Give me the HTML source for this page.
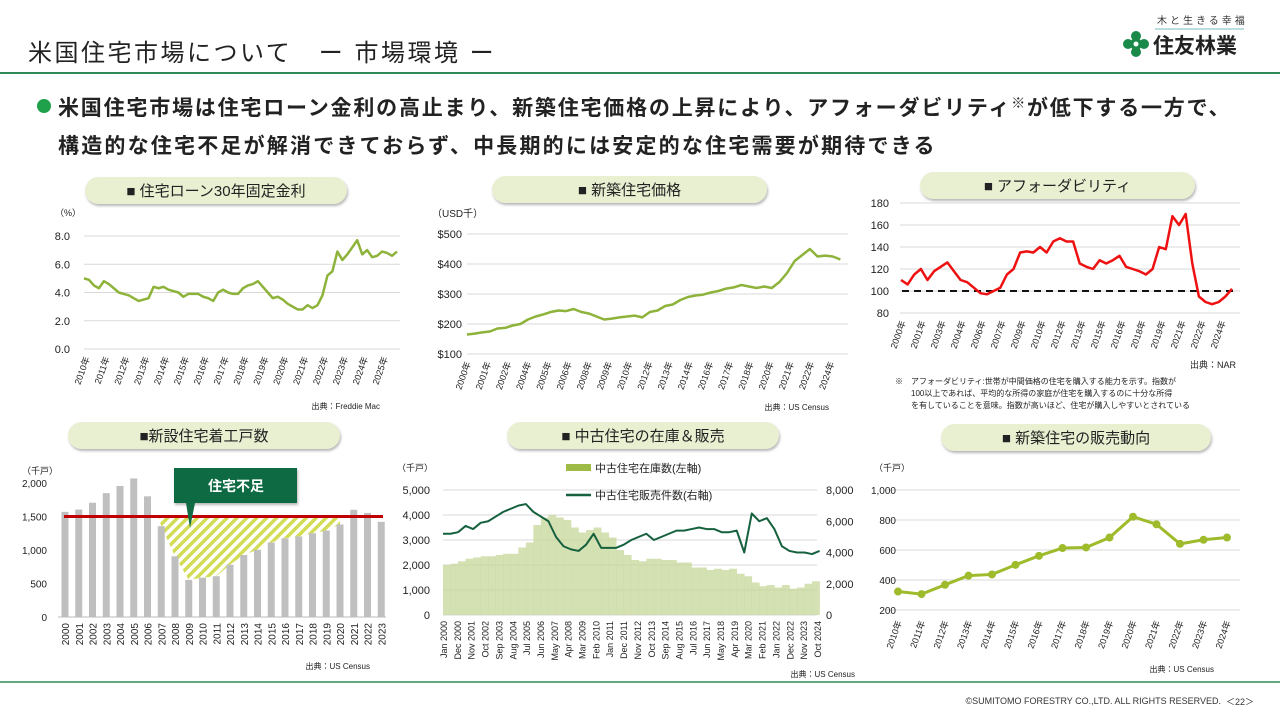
<!DOCTYPE html>
<html><head><meta charset="utf-8">
<style>
body{margin:0;background:#fff;}
svg{display:block;font-family:"Liberation Sans","Noto Sans CJK JP",sans-serif;}
</style></head>
<body>
<svg id="s" width="1280" height="720" viewBox="0 0 1280 720" xmlns="http://www.w3.org/2000/svg">
<defs>
<pattern id="hatch" width="7" height="7" patternUnits="userSpaceOnUse" patternTransform="rotate(45)">
<rect width="7" height="7" fill="#fff"/><rect width="3.5" height="7" fill="#d3dc55"/>
</pattern>
<filter id="sh" x="-5%" y="-20%" width="110%" height="160%"><feDropShadow dx="1" dy="2" stdDeviation="1.2" flood-color="#999" flood-opacity="0.7"/></filter>
</defs>
<text x="28" y="61" font-size="24" letter-spacing="2.5" fill="#222">米国住宅市場について　ー 市場環境 ー</text>
<line x1="0" y1="73" x2="1280" y2="73" stroke="#2e8b57" stroke-width="2"/>
<text x="1157" y="24" font-size="10" fill="#333" letter-spacing="3">木と生きる幸福</text>
<line x1="1155" y1="29" x2="1244" y2="29" stroke="#7bb" stroke-width="1"/>
<g fill="#1a8a4a"><circle cx="1136" cy="44" r="6"/><circle cx="1128" cy="44" r="5"/><circle cx="1144" cy="44" r="5"/><circle cx="1136" cy="36" r="5"/><circle cx="1136" cy="52" r="5"/><circle cx="1136" cy="44" r="2.5" fill="#fff"/></g>
<text x="1153" y="53" font-size="21" font-weight="bold" fill="#222">住友林業</text>
<circle cx="44" cy="106" r="7" fill="#1fa04a"/>
<text x="58" y="115" font-size="21" letter-spacing="1.8" font-weight="bold" fill="#222">米国住宅市場は住宅ローン金利の高止まり、新築住宅価格の上昇により、アフォーダビリティ<tspan font-size="14" dy="-7">※</tspan><tspan dy="7">が低下する一方で、</tspan></text>
<text x="58" y="153" font-size="21" letter-spacing="2.2" font-weight="bold" fill="#222">構造的な住宅不足が解消できておらず、中長期的には安定的な住宅需要が期待できる</text>
<g id="pills"></g>
<g id="c1"></g><g id="c2"></g><g id="c3"></g><g id="c4"></g><g id="c5"></g><g id="c6"></g>
<line x1="0" y1="682" x2="1280" y2="682" stroke="#2e8b57" stroke-width="1.5"/>
<text x="1221" y="704" font-size="9" fill="#333" text-anchor="end">©SUMITOMO FORESTRY CO.,LTD. ALL RIGHTS RESERVED.</text>
<text x="1240" y="705" font-size="9" fill="#333" text-anchor="middle">＜22＞</text>
</svg>
<script>
// ---- chart data ----
const rateStart = 2010;
const rateVals = [5.0,4.9,4.5,4.3, 4.8,4.6,4.3,4.0, 3.9,3.8,3.6,3.4, 3.5,3.6,4.4,4.3, 4.4,4.2,4.1,4.0, 3.7,3.9,3.9,3.9, 3.7,3.6,3.4,4.0, 4.2,4.0,3.9,3.9, 4.3,4.5,4.6,4.8, 4.4,4.0,3.6,3.7, 3.5,3.2,3.0,2.8, 2.8,3.1,2.9,3.1, 3.8,5.2,5.5,6.9, 6.3,6.7,7.2,7.7, 6.7,7.0,6.5,6.6, 6.9,6.8,6.6,6.9];
const rateTicks = [0,2,4,6,8];
const rateYears = ['2010年','2011年','2012年','2013年','2014年','2015年','2016年','2017年','2018年','2019年','2020年','2021年','2022年','2023年','2024年','2025年'];

const priceStart = 2000;
const priceVals = [165,168,172,175,185,187,195,200,215,225,232,240,245,243,250,240,235,225,215,218,222,225,228,222,240,245,260,265,280,290,295,298,305,310,318,322,330,325,320,325,320,340,370,410,430,450,425,428,425,415];
const priceTicks = [100,200,300,400,500];
const priceYears = ['2000年','2001年','2002年','2004年','2005年','2006年','2008年','2009年','2010年','2012年','2013年','2014年','2016年','2017年','2018年','2020年','2021年','2022年','2024年'];

const affStart = 2000;
const affVals = [110,106,115,120,110,118,122,126,118,110,108,103,98,97,100,103,115,120,135,136,135,140,135,145,148,145,145,125,122,120,128,125,128,132,122,120,118,115,120,140,138,168,160,170,125,95,90,88,90,95,102];
const affTicks = [80,100,120,140,160,180];
const affYears = ['2000年','2001年','2003年','2004年','2006年','2007年','2009年','2010年','2012年','2013年','2015年','2016年','2018年','2019年','2021年','2022年','2024年'];

const startsYears = ['2000','2001','2002','2003','2004','2005','2006','2007','2008','2009','2010','2011','2012','2013','2014','2015','2016','2017','2018','2019','2020','2021','2022','2023'];
const startsVals = [1569,1603,1705,1848,1956,2068,1801,1355,906,554,587,609,781,925,1003,1112,1174,1203,1250,1290,1380,1601,1553,1420];
const startsTicks = [0,500,1000,1500,2000];
const startsThreshold = 1500;

const exStart = 2000;
const invVals = [2000,2050,2150,2250,2300,2350,2350,2400,2450,2450,2700,2900,3600,3900,4000,3900,3800,3500,3300,3400,3500,3300,3100,2600,2400,2200,2150,2250,2250,2200,2200,2100,2100,1900,1900,1800,1850,1800,1850,1650,1550,1300,1150,1200,1100,1200,1050,1100,1250,1350];
const salesVals = [5200,5200,5300,5700,5500,5900,6000,6300,6600,6800,7000,7100,6600,6300,6000,5000,4400,4200,4100,4500,5200,4300,4300,4300,4500,4800,5000,5200,4800,5000,5200,5400,5400,5500,5600,5500,5500,5300,5300,5400,4000,6500,6000,6200,5500,4400,4100,4000,4000,3900,4100];
const exLeftTicks = [0,1000,2000,3000,4000,5000];
const exRightTicks = [0,2000,4000,6000,8000];
const exLabels = ['Jan 2000','Dec 2000','Nov 2001','Oct 2002','Sep 2003','Aug 2004','Jul 2005','Jun 2006','May 2007','Apr 2008','Mar 2009','Feb 2010','Jan 2011','Dec 2011','Nov 2012','Oct 2013','Sep 2014','Aug 2015','Jul 2016','Jun 2017','May 2018','Apr 2019','Mar 2020','Feb 2021','Jan 2022','Dec 2022','Nov 2023','Oct 2024'];

const nsYears = ['2010年','2011年','2012年','2013年','2014年','2015年','2016年','2017年','2018年','2019年','2020年','2021年','2022年','2023年','2024年'];
const nsVals = [323,306,368,429,437,501,561,613,617,683,822,771,641,668,683];
const nsTicks = [200,400,600,800,1000];

// ---- helpers ----
const NS='http://www.w3.org/2000/svg';
function mk(parent, tag, attrs, txt){const e=document.createElementNS(NS,tag);for(const k in attrs)e.setAttribute(k,attrs[k]);if(txt!==undefined)e.textContent=txt;parent.appendChild(e);return e;}
function lin(d0,d1,r0,r1){return v=>r0+(v-d0)/(d1-d0)*(r1-r0);}
function fmt(v){return v.toLocaleString('en-US');}
function rotLabel(g,x,y,t,fs,ang){const a=ang===undefined?-70:ang;const e=mk(g,'text',{x:x,y:y,'font-size':fs,fill:'#222','text-anchor':'end',transform:`rotate(${a} ${x} ${y})`},t);


return e;}

// ---- pills ----
const pills=[[85,177,262,'■ 住宅ローン30年固定金利'],[492,176,275,'■ 新築住宅価格'],[920,172,275,'■ アフォーダビリティ'],[68,422,272,'■新設住宅着工戸数'],[507,422,272,'■ 中古住宅の在庫＆販売'],[941,424,270,'■ 新築住宅の販売動向']];
const pg=document.getElementById('pills');
pills.forEach(p=>{const r=mk(pg,'rect',{x:p[0],y:p[1],width:p[2],height:27,rx:13.5,fill:'#e9f0d2',filter:'url(#sh)'});


const t=mk(pg,'text',{x:p[0]+p[2]/2,y:p[1]+19,'font-size':15,'text-anchor':'middle',fill:'#222'},p[3]);

});

function grid(g,ticks,y,x0,x1,lab,lx,fs,anchor){ticks.forEach(v=>{const l=mk(g,'line',{x1:x0,x2:x1,y1:y(v),y2:y(v),stroke:'#d9d9d9','stroke-width':1});


const t=mk(g,'text',{x:lx,y:y(v)+4,'font-size':fs,'text-anchor':anchor||'end',fill:'#222'},lab(v));

});}
function note(g,x,y,t,fs,anchor){const e=mk(g,'text',{x:x,y:y,'font-size':fs||8,fill:'#222','text-anchor':anchor||'start'},t);

return e;}

// ---- chart 1: mortgage rate ----
(function(){const g=document.getElementById('c1');
const x=lin(rateStart,rateStart+15.75,84,397), y=lin(0,8,349,236);
grid(g,rateTicks,y,84,400,v=>v.toFixed(1),70,11);
note(g,55,216,'（%）',9);
rateYears.forEach((t,i)=>rotLabel(g,x(rateStart+i)+6,358,t,9));
const pts=rateVals.map((v,i)=>x(rateStart+i*0.25)+','+y(v)).join(' ');
const l=mk(g,'polyline',{points:pts,fill:'none',stroke:'#8db33a','stroke-width':2.5,'stroke-linejoin':'round'});


note(g,380,409,'出典：Freddie Mac',8,'end');})();

// ---- chart 2: new home price ----
(function(){const g=document.getElementById('c2');
const x=lin(priceStart,priceStart+25,467,848), y=lin(100,500,354,234);
grid(g,priceTicks,y,467,848,v=>'$'+v,462,11);
note(g,432,217,'（USD千）',10);
priceYears.forEach((t,i)=>rotLabel(g,471+i*20.2,363,t,9));
const pts=priceVals.map((v,i)=>x(priceStart+i*0.5)+','+y(v)).join(' ');
const l=mk(g,'polyline',{points:pts,fill:'none',stroke:'#8db33a','stroke-width':2.5,'stroke-linejoin':'round'});


note(g,829,410,'出典：US Census',8,'end');})();

// ---- chart 3: affordability ----
(function(){const g=document.getElementById('c3');
const x=lin(affStart,affStart+25,901,1232), y=lin(80,180,313,203);
grid(g,affTicks,y,900,1240,v=>v,889,11);
affYears.forEach((t,i)=>rotLabel(g,906+i*20,322,t,9));
const d=mk(g,'line',{x1:902,x2:1236,y1:y(100),y2:y(100),stroke:'#111','stroke-width':2,'stroke-dasharray':'7 5'});


const pts=affVals.map((v,i)=>x(affStart+i*0.5)+','+y(v)).join(' ');
const l=mk(g,'polyline',{points:pts,fill:'none',stroke:'#ee1111','stroke-width':2.5,'stroke-linejoin':'round'});


note(g,1236,368,'出典：NAR',9,'end');
note(g,895,384,'※　アフォーダビリティ:世帯が中間価格の住宅を購入する能力を示す。指数が',8);
note(g,911,396,'100以上であれば、平均的な所得の家庭が住宅を購入するのに十分な所得',8);
note(g,911,408,'を有していることを意味。指数が高いほど、住宅が購入しやすいとされている',8);})();

// ---- chart 4: housing starts ----
(function(){const g=document.getElementById('c4');
const step=13.75, x=i=>65+i*step, y=lin(0,2000,617,483);
startsTicks.forEach(v=>{const t=mk(g,'text',{x:47,y:y(v)+4,'font-size':10,'text-anchor':'end',fill:'#222'},fmt(v));

});
note(g,22,474,'（千戸）',9);
let pts=[];for(let i=7;i<=20;i++)pts.push(x(i)+','+y(startsVals[i]));
pts.push(x(20)+','+y(startsThreshold));pts.push((x(7)-3)+','+y(startsThreshold));
const h=mk(g,'polygon',{points:pts.join(' '),fill:'url(#hatch)'});


startsVals.forEach((v,i)=>{const b=mk(g,'rect',{x:x(i)-3.5,y:y(v),width:7,height:y(0)-y(v),fill:'#bfbfbf'});


rotLabel(g,x(i)+4,623,startsYears[i],10,-90);});
const ax=mk(g,'line',{x1:58,x2:386,y1:y(0),y2:y(0),stroke:'#bbb'});


const r=mk(g,'line',{x1:64,x2:383,y1:y(startsThreshold),y2:y(startsThreshold),stroke:'#c00000','stroke-width':3});


const box=mk(g,'rect',{x:174,y:468,width:123,height:35,fill:'#116b43',filter:'url(#sh)'});


const ar=mk(g,'polygon',{points:'186,503 195,503 190,528',fill:'#116b43'});


const ct=mk(g,'text',{x:236,y:491,'font-size':14,'font-weight':'bold','text-anchor':'middle',fill:'#fff'},'住宅不足');


note(g,370,669,'出典：US Census',8,'end');})();

// ---- chart 5: existing homes ----
(function(){const g=document.getElementById('c5');
const x=lin(exStart,exStart+24.83,443,817), yl=lin(0,5000,615,490), yr=lin(0,8000,615,490);
grid(g,exLeftTicks,yl,443,817,fmt,430,11);
exRightTicks.forEach(v=>{const t=mk(g,'text',{x:826,y:yr(v)+4,'font-size':11,fill:'#222'},fmt(v));

});
note(g,397,471,'（千戸）',9);
const w=x(exStart+0.5)-x(exStart);
invVals.forEach((v,i)=>{const b=mk(g,'rect',{x:x(exStart+i*0.5),y:yl(v),width:w+0.3,height:yl(0)-yl(v),fill:'#c6d79a','fill-opacity':0.75});

});
const pts=salesVals.map((v,i)=>x(exStart+i*0.5)+','+yr(v)).join(' ');
const l=mk(g,'polyline',{points:pts,fill:'none',stroke:'#16613d','stroke-width':2,'stroke-linejoin':'round'});


exLabels.forEach((t,i)=>rotLabel(g,447+i*13.85,621,t,9,-90));
const lg1=mk(g,'rect',{x:566,y:464,width:25,height:7,fill:'#9dbb45'});


note(g,595,472,'中古住宅在庫数(左軸)',11);
const lg2=mk(g,'line',{x1:566,x2:591,y1:495,y2:495,stroke:'#16613d','stroke-width':2.5});


note(g,595,499,'中古住宅販売件数(右軸)',11);
note(g,855,677,'出典：US Census',8,'end');})();

// ---- chart 6: new home sales ----
(function(){const g=document.getElementById('c6');
const x=i=>898+i*23.5, y=lin(200,1000,610,490);
grid(g,nsTicks,y,885,1240,fmt,906-10,10);
note(g,874,471,'（千戸）',9);
const pts=nsVals.map((v,i)=>x(i)+','+y(v)).join(' ');
const l=mk(g,'polyline',{points:pts,fill:'none',stroke:'#9dbb2a','stroke-width':3});


nsVals.forEach((v,i)=>{const c=mk(g,'circle',{cx:x(i),cy:y(v),r:4,fill:'#9dbb2a'});


rotLabel(g,x(i)+4,622,nsYears[i],9);});
note(g,1214,672,'出典：US Census',8,'end');})();
</script>
</body></html>
